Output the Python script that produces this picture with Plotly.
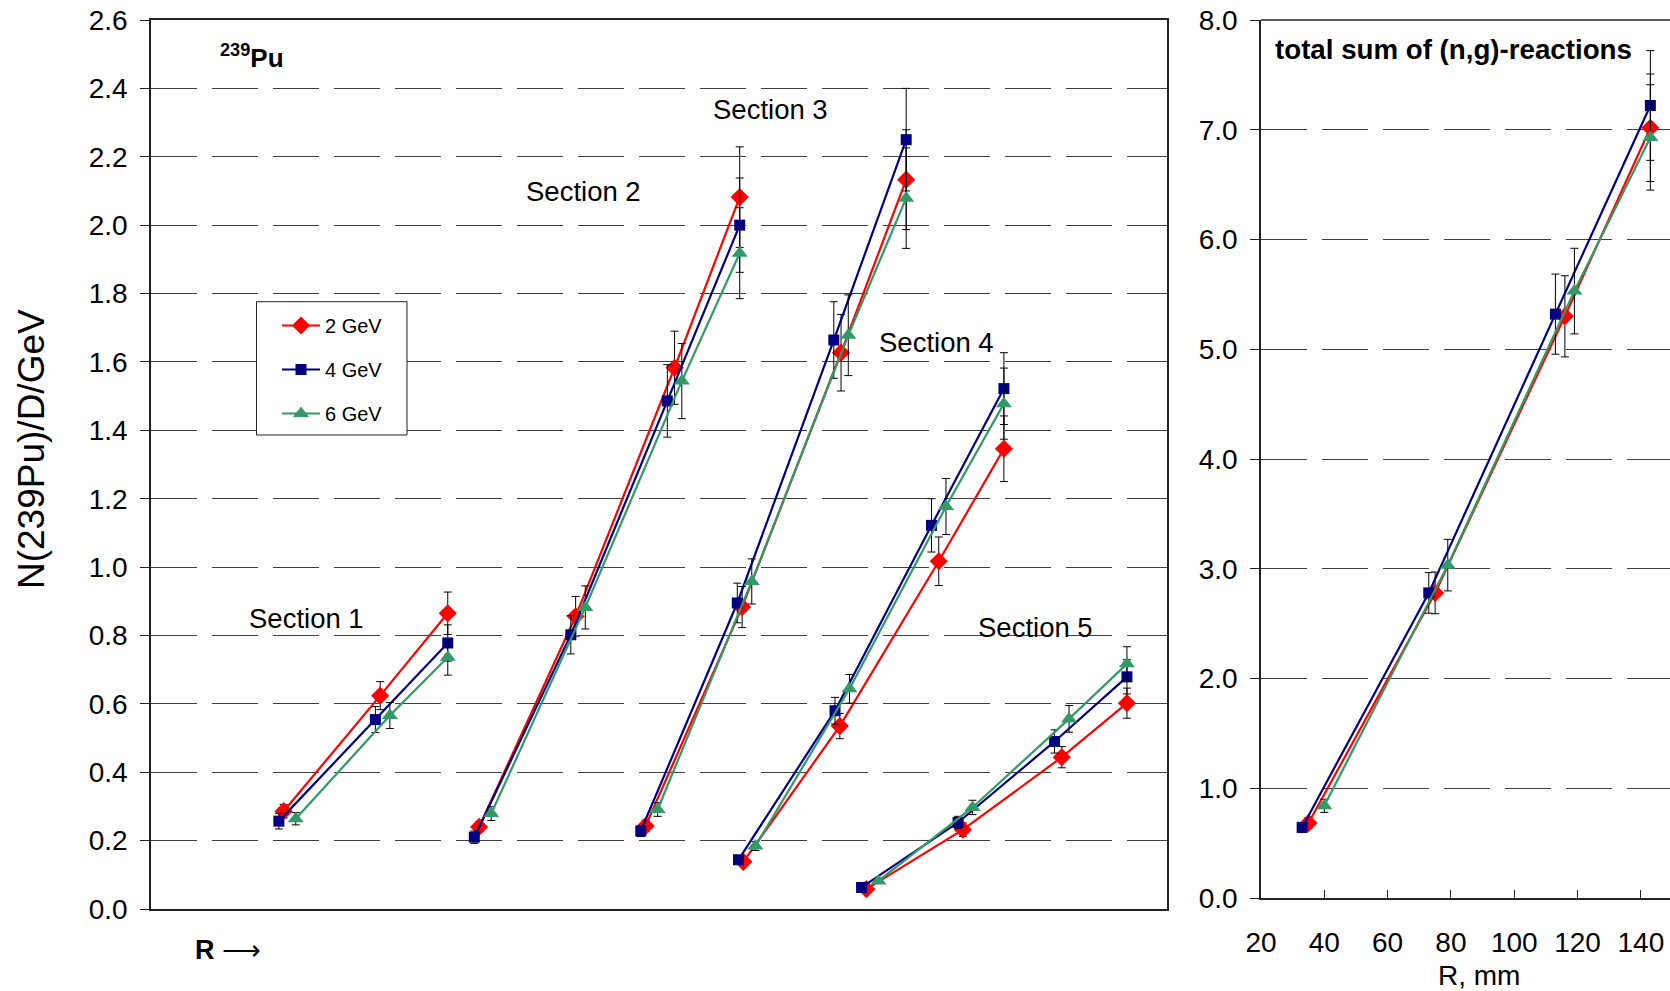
import plotly.graph_objects as go

W, H = 1670, 991
FONT = "Liberation Sans, Arial, sans-serif"

ENERGIES = ["2 GeV", "4 GeV", "6 GeV"]
COLORS = {"2 GeV": "#FF0000", "4 GeV": "#000080", "6 GeV": "#339966"}
SYMBOLS = {"2 GeV": "diamond", "4 GeV": "square", "6 GeV": "triangle-up"}
MSIZE = {"2 GeV": 14, "4 GeV": 11, "6 GeV": 14}

# Radial positions of the sample holes, mm (sections 2-5)
R_MM = {
    "2 GeV": [35, 75, 116, 143],
    "4 GeV": [33, 73, 113, 143],
    "6 GeV": [40, 79, 119, 143],
}
# Section 1 carries only three radial positions
R1_MM = {
    "2 GeV": [35, 75, 103],
    "4 GeV": [33, 73, 103],
    "6 GeV": [40, 79, 103],
}

SECTIONS = ["Section 1", "Section 2", "Section 3", "Section 4", "Section 5"]
# Shift of each section along the common "R ->" axis
SECTION_SHIFT = [20, 101, 170, 210.5, 261.5]

# N(239Pu)/D/GeV per section, one list per section
N_2GEV = [
    [0.286, 0.624, 0.865],
    [0.240, 0.856, 1.583, 2.082],
    [0.243, 0.883, 1.627, 2.133],
    [0.138, 0.535, 1.017, 1.346],
    [0.058, 0.232, 0.444, 0.602],
]
ERR_2GEV = [
    [0.020, 0.041, 0.062],
    [0.015, 0.058, 0.107, 0.147],
    [0.017, 0.060, 0.112, 0.146],
    [0.010, 0.037, 0.071, 0.096],
    [0.005, 0.020, 0.031, 0.044],
]
N_4GEV = [
    [0.257, 0.554, 0.778],
    [0.210, 0.802, 1.486, 2.000],
    [0.228, 0.895, 1.664, 2.250],
    [0.144, 0.580, 1.122, 1.522],
    [0.063, 0.253, 0.490, 0.679],
]
ERR_4GEV = [
    [0.023, 0.038, 0.053],
    [0.018, 0.056, 0.106, 0.138],
    [0.016, 0.058, 0.112, 0.150],
    [0.010, 0.039, 0.078, 0.105],
    [0.005, 0.018, 0.034, 0.050],
]
N_6GEV = [
    [0.264, 0.566, 0.736],
    [0.279, 0.882, 1.544, 1.918],
    [0.291, 0.958, 1.678, 2.079],
    [0.184, 0.644, 1.177, 1.478],
    [0.082, 0.297, 0.556, 0.717],
]
ERR_6GEV = [
    [0.018, 0.038, 0.052],
    [0.020, 0.063, 0.110, 0.133],
    [0.020, 0.066, 0.118, 0.147],
    [0.013, 0.042, 0.082, 0.104],
    [0.006, 0.021, 0.039, 0.050],
]

# Total sum of (n,g)-reactions versus R
TOTAL = {
    "2 GeV": [0.683, 2.780, 5.300, 7.018],
    "4 GeV": [0.643, 2.780, 5.320, 7.221],
    "6 GeV": [0.840, 3.033, 5.530, 6.930],
}
TOTAL_ERR = {
    "2 GeV": [0.050, 0.190, 0.370, 0.490],
    "4 GeV": [0.045, 0.185, 0.365, 0.500],
    "6 GeV": [0.060, 0.235, 0.390, 0.480],
}

N_BY_E = {"2 GeV": N_2GEV, "4 GeV": N_4GEV, "6 GeV": N_6GEV}
ERR_BY_E = {"2 GeV": ERR_2GEV, "4 GeV": ERR_4GEV, "6 GeV": ERR_6GEV}

LEFT_Y_TICKS = [round(0.2 * i, 1) for i in range(14)]
RIGHT_Y_TICKS = [float(i) for i in range(9)]
RIGHT_X_TICKS = [20, 40, 60, 80, 100, 120, 140]


# pixel frame of the two plot areas
def px_x(p):
    return p / W


def px_y(p):
    return 1 - p / H


L_X0, L_X1, L_Y0, L_Y1 = 151, 1167, 20, 909
R_X0, R_Y0, R_Y1 = 1261, 20, 898
LEG_BOX = (256.5, 301.7, 407, 435)

fig = go.Figure()

for e in ENERGIES:
    xs, ys, es = [], [], []
    for k, shift in enumerate(SECTION_SHIFT):
        radii = R1_MM[e] if k == 0 else R_MM[e]
        xs += [shift + r for r in radii] + [None]
        ys += N_BY_E[e][k] + [None]
        es += ERR_BY_E[e][k] + [0]
    fig.add_trace(go.Scatter(
        x=xs, y=ys, name=e, mode="lines+markers", connectgaps=False,
        legendgroup=e, xaxis="x", yaxis="y",
        line=dict(color=COLORS[e], width=2.2),
        marker=dict(symbol=SYMBOLS[e], size=MSIZE[e], color=COLORS[e]),
        error_y=dict(type="data", array=es, visible=True, color="black",
                     thickness=1, width=4),
    ))

for e in ENERGIES:
    fig.add_trace(go.Scatter(
        x=R_MM[e], y=TOTAL[e], name=e, mode="lines+markers", showlegend=False,
        legendgroup=e, xaxis="x2", yaxis="y2",
        line=dict(color=COLORS[e], width=2.2),
        marker=dict(symbol=SYMBOLS[e], size=MSIZE[e], color=COLORS[e]),
        error_y=dict(type="data", array=TOTAL_ERR[e], visible=True,
                     color="black", thickness=1, width=4),
    ))

grid = dict(showgrid=True, gridcolor="#404040", gridwidth=1,
            griddash="46px,15px")
tickfont = dict(family=FONT, size=28, color="black")

fig.update_layout(
    template="none",
    width=W, height=H,
    margin=dict(l=0, r=0, t=0, b=0, pad=0, autoexpand=False),
    paper_bgcolor="white", plot_bgcolor="white",
    font=dict(family=FONT, color="black"),
    xaxis=dict(domain=[px_x(L_X0), px_x(L_X1)], range=[0, 421.1],
               automargin=False,
               showgrid=False, zeroline=False, showticklabels=False,
               ticks="", showline=True, linecolor="#222", linewidth=1.5,
               mirror=True),
    yaxis=dict(domain=[px_y(L_Y1), px_y(L_Y0)], range=[0, 2.6],
               automargin=False,
               tickvals=LEFT_Y_TICKS, tickformat=".1f", ticks="outside",
               ticklen=9, tickcolor="#222", tickfont=tickfont,
               ticklabelstandoff=7, zeroline=False, showline=True,
               linecolor="#222", linewidth=1.5, mirror=True, **grid),
    xaxis2=dict(domain=[px_x(R_X0), 1.0], range=[20, 149.2],
                automargin=False,
                anchor="y2", tickvals=RIGHT_X_TICKS, ticks="inside",
                ticklen=8, tickcolor="#222", tickfont=tickfont,
                ticklabelstandoff=19, showgrid=False, zeroline=False,
                showline=True, linecolor="#222", linewidth=1.5),
    yaxis2=dict(domain=[px_y(R_Y1), px_y(R_Y0)], range=[0, 8],
                automargin=False,
                anchor="x2", tickvals=RIGHT_Y_TICKS, tickformat=".1f",
                ticks="outside", ticklen=9, tickcolor="#222",
                tickfont=tickfont, ticklabelstandoff=7, zeroline=False,
                showline=True, linecolor="#222", linewidth=1.5, **grid),
    legend=dict(x=px_x(277), y=px_y(306), xanchor="left",
                yanchor="top", borderwidth=0,
                bgcolor="rgba(0,0,0,0)", font=dict(family=FONT, size=20),
                tracegroupgap=15, traceorder="grouped", itemwidth=38),
    showlegend=True,
)

# solid top border of the right-hand plot
fig.add_shape(type="line", xref="x2 domain", yref="y2 domain",
              x0=0, x1=1, y0=1, y1=1, line=dict(color="#222", width=1.5))
# framed white box behind the legend entries
fig.add_shape(type="rect", xref="paper", yref="paper", layer="above",
              x0=px_x(LEG_BOX[0]), x1=px_x(LEG_BOX[2]),
              y0=px_y(LEG_BOX[3]), y1=px_y(LEG_BOX[1]),
              line=dict(color="#222", width=1), fillcolor="white")

ann = []


def label(text, x, y, size, xanchor="center", **kw):
    ann.append(dict(text=text, xref="paper", yref="paper", x=px_x(x),
                    y=px_y(y), xanchor=xanchor, yanchor="middle",
                    showarrow=False,
                    font=dict(family=FONT, size=size, color="black"), **kw))


SECTION_LABEL_POS = [(306, 618), (583, 192), (770, 109), (936, 342),
                     (1035, 627)]
for name, (lx, ly) in zip(SECTIONS, SECTION_LABEL_POS):
    label(name, lx, ly, 27.5)

label("<b><sup>239</sup>Pu</b>", 218, 56, 26, xanchor="left")
label("<b>R</b> \u27f6", 193, 950, 27, xanchor="left")
label("<b>total sum of (n,g)-reactions</b>", 1273, 50, 27.7, xanchor="left")
label("R, mm", 1479, 975, 28)
label("N(239Pu)/D/GeV", 32, 449, 37, textangle=-90)

fig.update_layout(annotations=ann)

fig.write_html("out.html")
